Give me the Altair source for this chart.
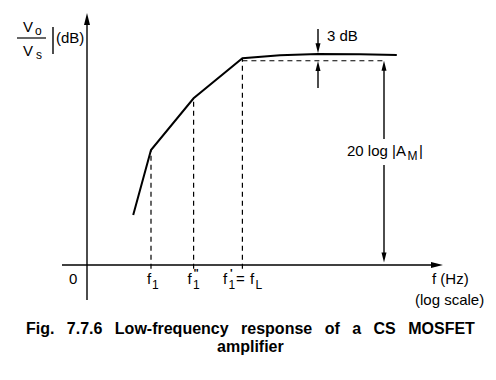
import altair as alt
import pandas as pd

# ---- data (diagram units: x = log-frequency position, y = gain in dB) ----
curve_x = [1.13, 1.575, 2.64, 3.86, 4.8, 5.75, 6.8, 7.72]
curve_db = [20.0, 46.0, 66.7, 82.7, 83.9, 84.4, 84.3, 84.0]
break_idx = [1, 2, 3]                      # f1, f1'', f1' = fL
break_x = [curve_x[i] for i in break_idx]
break_db = [curve_db[i] for i in break_idx]
minus3_db = 81.7                           # -3 dB level
mid_db = 84.4                              # mid-band gain
arrow3_x = 5.75                            # position of 3 dB marker
am_x = 7.4                                 # position of 20 log|AM| marker

SP = " \u2002"  # widened word gap (justified caption)
caption = [SP.join(["Fig.", "7.7.6", "Low-frequency", "response", "of", "a", "CS", "MOSFET"]),
           "amplifier"]

XS = alt.Scale(domain=[-2, 10], nice=False, zero=False)
YS = alt.Scale(domain=[-41.2, 102.8], nice=False, zero=False)
FONT = "Liberation Sans"


def enc(**kw):
    base = dict(x=alt.X("x:Q", scale=XS, axis=None), y=alt.Y("y:Q", scale=YS, axis=None))
    base.update(kw)
    return base


def segs(rows, width=1.5, dash=None):
    df = pd.DataFrame(rows, columns=["x", "y", "x2", "y2"])
    kw = dict(color="black", strokeWidth=width)
    if dash:
        kw["strokeDash"] = dash
    return alt.Chart(df).mark_rule(**kw).encode(**enc(x2="x2:Q", y2="y2:Q"))


def heads(rows, path, size):
    df = pd.DataFrame(rows, columns=["x", "y"])
    return alt.Chart(df).mark_point(shape=path, size=size, filled=True, color="black",
                                    opacity=1, strokeWidth=0).encode(**enc())


def texts(rows, size, weight="normal", align="left"):
    df = pd.DataFrame(rows, columns=["text", "x", "y"])
    return alt.Chart(df).mark_text(font=FONT, fontSize=size, fontWeight=weight, align=align,
                                   baseline="alphabetic", color="black").encode(**enc(text="text:N"))


UP = "M0,0L-0.5,2L0.5,2Z"
DOWN = "M0,0L-0.5,-2L0.5,-2Z"
RIGHT = "M0,0L-2,-0.5L-2,0.5Z"

curve = alt.Chart(pd.DataFrame({"x": curve_x, "y": curve_db, "i": range(len(curve_x))})).mark_line(
    color="black", strokeWidth=2, strokeJoin="miter").encode(**enc(order="i:Q"))

dashed_v = segs([(bx, -1.5, bx, bd) for bx, bd in zip(break_x, break_db)], 1.2, [5, 4])
dashed_h = segs([(break_x[-1], minus3_db, am_x, minus3_db)], 1.2, [5, 4])

solid = segs([
    (-0.65, 0, 8.7, 0),                 # x axis
    (-0.025, -14, -0.025, 99),          # y axis
    (arrow3_x, 94.4, arrow3_x, 86.5),   # 3 dB down shaft
    (arrow3_x, 70.8, arrow3_x, 79.5),   # 3 dB up shaft
    (am_x, 79.5, am_x, 50.4),           # 20 log |AM| upper shaft
    (am_x, 40.0, am_x, 3.5),            # 20 log |AM| lower shaft
    (-0.875, 95.2, -0.875, 84.4),       # |  of |Vo/Vs|
], 1.4)
frac = segs([(-1.775, 90.8, -1.05, 90.8)], 1.2)

axis_heads_up = heads([(-0.025, 100.8)], UP, 144)
axis_heads_r = heads([(8.875, 0)], RIGHT, 144)
small_up = heads([(arrow3_x, minus3_db - 0.1), (am_x, minus3_db)], UP, 100)
small_down = heads([(arrow3_x, mid_db + 0.3), (am_x, 1.0)], DOWN, 100)

main_txt = texts([
    ("V", -1.625, 93.2), ("V", -1.625, 83.6), ("(dB)", -0.8, 88.8),
    ("0", -0.475, -7.6),
    ("f", 1.475, -7.6), ("f", 2.49, -7.6), ("f", 3.375, -7.6), ("=", 3.7, -7.6), ("f", 4.05, -7.6),
    ("f (Hz)", 8.6, -7.6), ("(log scale)", 8.175, -16.0),
    ("3 dB", 5.975, 89.6), ("20 log |A", 6.475, 43.6), ("|", 8.275, 43.6),
], 15)
sub_txt = texts([
    ("o", -1.325, 92.0), ("s", -1.3, 82.4),
    ("1", 1.6, -9.4), ("1", 2.625, -9.4), ("1", 3.51, -9.4), ("L", 4.19, -9.4),
    ("M", 7.99, 42.0),
], 12)
prime_txt = texts([('"', 2.64, -4.8), ("'", 3.55, -4.8)], 11, "bold")
cap_txt = texts([(caption[0], 4.06, -27.6), (caption[1], 4.06, -34.8)], 16, "bold", "center")

chart = alt.layer(
    dashed_v, dashed_h, curve, solid, frac,
    axis_heads_up, axis_heads_r, small_up, small_down,
    main_txt, sub_txt, prime_txt, cap_txt,
).properties(
    width=480, height=360, padding=0, autosize=alt.AutoSizeParams(type="none"),
).configure_view(stroke=None)

chart.save("out.html", embed_options={"renderer": "svg", "actions": False})
